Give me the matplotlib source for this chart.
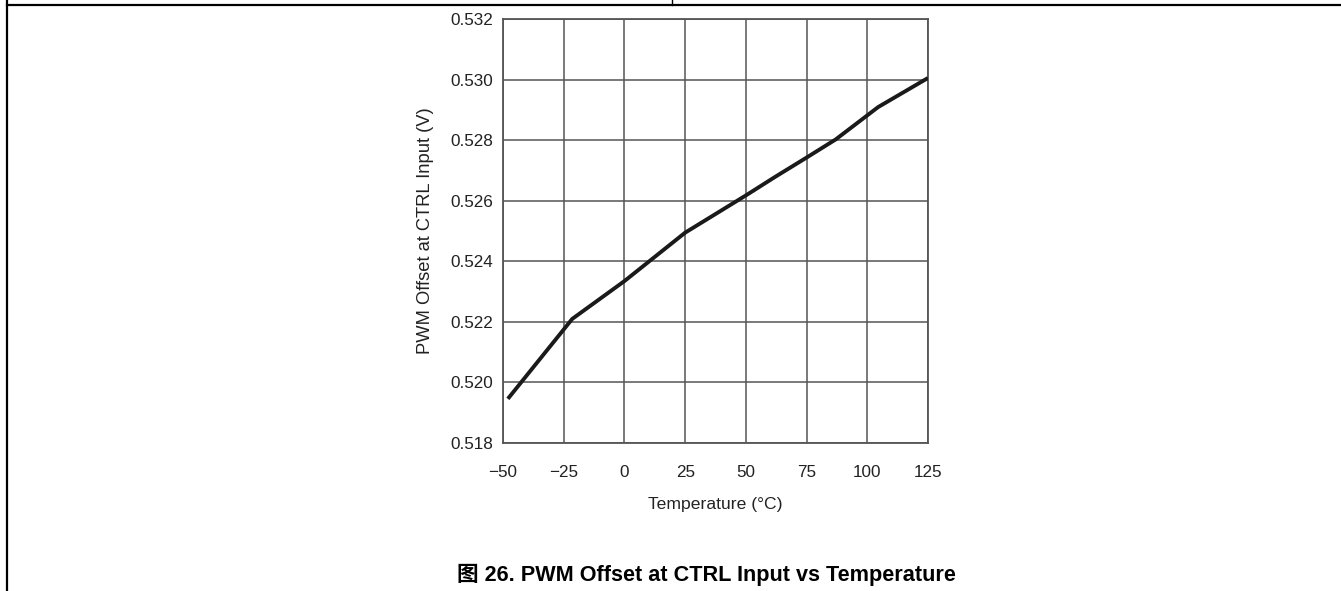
import matplotlib.pyplot as plt
from matplotlib.lines import Line2D

# PWM offset at CTRL input vs temperature
temp_c = [-48, -21.5, 0, 25, 50, 62, 75, 87, 104.5, 125]
offset_v = [0.51945, 0.52209, 0.52334, 0.52494, 0.52617, 0.52678, 0.52742, 0.52802, 0.52909, 0.53005]

x_ticks = [-50, -25, 0, 25, 50, 75, 100, 125]
x_tick_labels = ["\u221250", "\u221225", "0", "25", "50", "75", "100", "125"]
y_ticks = [0.518, 0.520, 0.522, 0.524, 0.526, 0.528, 0.530, 0.532]

plt.rcParams["font.family"] = ["Liberation Sans", "Noto Sans CJK SC", "DejaVu Sans"]

fig = plt.figure(figsize=(13.41, 5.91), dpi=100)
ax = fig.add_axes([0.3751, 0.2509, 0.3169, 0.7170])

ax.plot(temp_c, offset_v, color="#1a1a1a", linewidth=2.8, solid_capstyle="butt", zorder=3)

ax.set_xlim(-50, 125)
ax.set_ylim(0.518, 0.532)
ax.set_xticks(x_ticks)
ax.set_xticklabels(x_tick_labels)
ax.set_yticks(y_ticks)
ax.set_yticklabels([f"{v:.3f}" for v in y_ticks])
ax.tick_params(axis="both", length=0, labelsize=12.3, colors="#222222")
ax.tick_params(axis="x", pad=16)
ax.tick_params(axis="y", pad=7)

ax.grid(True, color="#555555", linewidth=1.1)
for spine in ax.spines.values():
    spine.set_color("#555555")
    spine.set_linewidth(1.3)

ax.set_xlabel("Temperature (\u00b0C)", fontsize=12.6, color="#222222", labelpad=12)
ax.set_ylabel("PWM Offset at CTRL Input (V)", fontsize=13.2, color="#222222", labelpad=12)

fig.text(0.527, 0.027, "\u56fe 26. PWM Offset at CTRL Input vs Temperature",
         ha="center", va="center", fontsize=15.6, fontweight="bold",
         family=["Liberation Sans", "Noto Sans CJK SC"])

# page frame lines
fig.add_artist(Line2D([7 / 1341, 1], [1 - 5 / 591, 1 - 5 / 591], color="black", linewidth=1.6, transform=fig.transFigure))
fig.add_artist(Line2D([7 / 1341, 7 / 1341], [0, 1], color="black", linewidth=1.6, transform=fig.transFigure))
fig.add_artist(Line2D([672 / 1341, 672 / 1341], [1 - 5 / 591, 1], color="black", linewidth=1.0, transform=fig.transFigure))

fig.savefig("out.png", dpi=100)
